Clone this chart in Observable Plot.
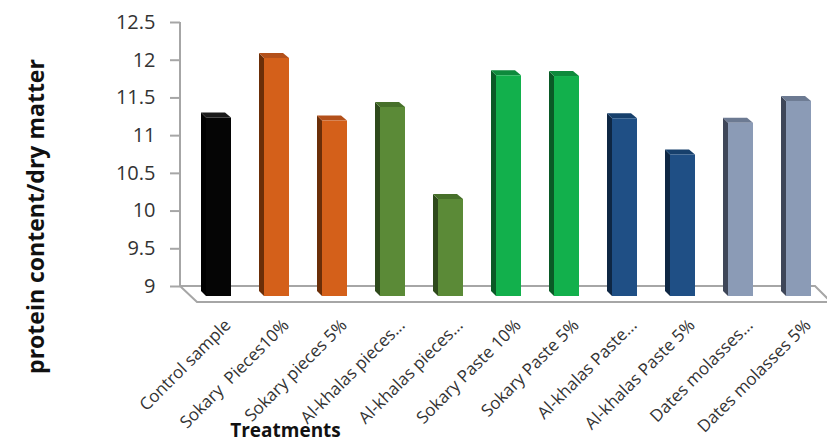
<!DOCTYPE html>
<html><head><meta charset="utf-8">
<script src="https://cdn.jsdelivr.net/npm/d3@7"></script>
<script src="https://cdn.jsdelivr.net/npm/@observablehq/plot@0.6"></script>
<style>body{margin:0;background:#fff;}</style>
</head><body><div id="chart"></div>
<script>
const categories = ["Control sample","Sokary Pieces10%","Sokary pieces 5%","Al-khalas pieces 10%","Al-khalas pieces 5%","Sokary Paste 10%","Sokary Paste 5%","Al-khalas Paste 10%","Al-khalas Paste 5%","Dates molasses 10%","Dates molasses 5%"];
const tickLabels = ["Control sample","Sokary\u00a0 Pieces10%","Sokary pieces 5%","Al-khalas pieces...","Al-khalas pieces...","Sokary Paste 10%","Sokary Paste 5%","Al-khalas Paste...","Al-khalas Paste 5%","Dates molasses...","Dates molasses 5%"];
const values = [11.30, 12.09, 11.26, 11.44, 10.22, 11.86, 11.85, 11.29, 10.81, 11.23, 11.52];
const groups = ["control","sokaryPieces","sokaryPieces","khalasPieces","khalasPieces","sokaryPaste","sokaryPaste","khalasPaste","khalasPaste","dates","dates"];
const yTicks = [9, 9.5, 10, 10.5, 11, 11.5, 12, 12.5];
const frontColors = {control:"#050505", sokaryPieces:"#d4601a", khalasPieces:"#5b8a37", sokaryPaste:"#12b04c", khalasPaste:"#1f4f85", dates:"#8b9bb6"};
const sideColors  = {control:"#000000", sokaryPieces:"#6b2e08", khalasPieces:"#2e4a1b", sokaryPaste:"#0a5a26", khalasPaste:"#0e2744", dates:"#3e4658"};
const topColors   = {control:"#1a1a1a", sokaryPieces:"#b3501a", khalasPieces:"#47702a", sokaryPaste:"#0e8a3c", khalasPaste:"#17406c", dates:"#6c7a92"};

const data = categories.map((c, i) => ({cat: c, value: values[i], group: groups[i]}));
const BASE = 9, D = 5, DROP = 10;
const AXIS = "#a6a6a6";

function floorMark(index, scales, vals, dim) {
  const y0 = scales.y(BASE), yTop = scales.y(12.5);
  const xl = dim.marginLeft - 2, xr = dim.width - dim.marginRight - 9;
  const g = d3.create("svg:g").attr("fill", "none").attr("stroke", AXIS).attr("stroke-width", 2);
  g.append("path").attr("d", `M${xl},${yTop}L${xl},${y0}L${xr},${y0}L${xr+16},${y0+16}`);
  g.append("path").attr("d", `M${xl},${y0}L${xl+17},${y0+16}L${dim.width+5},${y0+16}`);
  return g.node();
}

function facesRender(index, scales, vals, dim) {
  const g = d3.create("svg:g");
  const bw = scales.x.bandwidth ? scales.x.bandwidth() : 25;
  const yb = scales.y(BASE) + DROP;
  for (const i of index) {
    const d = data[i];
    const x = scales.x(d.cat), y = scales.y(d.value);
    g.append("path").attr("d", `M${x},${y}L${x+D},${y+D}L${x+D},${yb}L${x},${yb-D}Z`).attr("fill", sideColors[d.group]);
    g.append("path").attr("d", `M${x},${y}L${x+bw-1},${y}L${x+bw+D},${y+D}L${x+D},${y+D}Z`).attr("fill", topColors[d.group]);
  }
  return g.node();
}

const chart = Plot.plot({
  width: 827,
  height: 442,
  marginLeft: 182,
  marginRight: 3,
  marginTop: 22,
  marginBottom: 156,
  style: {fontFamily: "'Open Sans', sans-serif", background: "#fff", overflow: "visible"},
  x: {domain: categories, paddingInner: 0.57, paddingOuter: 0.285},
  y: {domain: [9, 12.5]},
  marks: [
    floorMark,
    Plot.barY(data, {x: "cat", y1: BASE, y2: "value", render: facesRender}),
    Plot.barY(data, {x: "cat", y1: BASE, y2: "value", fill: d => frontColors[d.group], dx: D, dy: D, insetBottom: -(DROP - D)}),
    Plot.axisY({ticks: yTicks, tickFormat: d => String(d), tickSize: 10, tickPadding: 15, fontSize: 20, stroke: AXIS, strokeWidth: 2, fill: "#333", label: null, dx: -2}),
    Plot.axisX({tickRotate: -45, tickSize: 0, tickPadding: 36, fontSize: 17, tickFormat: (d, i) => tickLabels[categories.indexOf(d)], fill: "#333", label: null, dx: 14}),
    Plot.text(["protein content/dry matter"], {frameAnchor: "left", textAnchor: "middle", rotate: -90, dx: -146, dy: 62, fontSize: 23, fontWeight: "bold", fill: "#111"}),
    Plot.text(["Treatments"], {frameAnchor: "bottom-left", textAnchor: "middle", dx: 103, dy: 150, fontSize: 19, fontWeight: "bold", fill: "#111"})
  ]
});
document.getElementById("chart").appendChild(chart);
</script>
</body></html>
